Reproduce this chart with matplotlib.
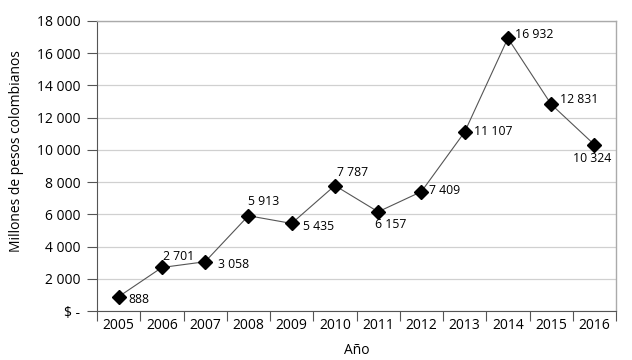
"""Millones de pesos colombianos por año"""

import matplotlib
matplotlib.use('agg')
import matplotlib.pyplot as plt
import numpy as np

years = ["2005", "2006", "2007", "2008", "2009", "2010",
         "2011", "2012", "2013", "2014", "2015", "2016"]
values = [888, 2701, 3058, 5913, 5435, 7787, 6157, 7409, 11107, 16932, 12831, 10324]
y_ticks = [0, 2000, 4000, 6000, 8000, 10000, 12000, 14000, 16000, 18000]


def fmt(v):
    """thousands with a space, zero as '$ -'"""
    if v == 0:
        return "$ -"
    return "{:,}".format(v).replace(",", " ")


# label placement (offset in pixels, ha, va)
LABEL_POS = [
    ((10, -3), "left", "center"),
    ((1, 11), "left", "center"),
    ((13, -3), "left", "center"),
    ((0, 14), "left", "center"),
    ((11, -3), "left", "center"),
    ((2, 13), "left", "center"),
    ((13, -13), "center", "center"),
    ((8, 1), "left", "center"),
    ((9, 1), "left", "center"),
    ((7, 4), "left", "center"),
    ((9, 5), "left", "center"),
    ((-2, -14), "center", "center"),
]


def main():
    plt.rcParams['font.family'] = ['Open Sans', 'DejaVu Sans']
    fig = plt.figure(figsize=(6.32, 3.6), dpi=100)
    ax = fig.add_axes([0.1535, 0.1361, 0.9747 - 0.1535, 0.9417 - 0.1361])

    x = np.arange(len(years))
    ax.plot(x, values, color="#555555", lw=0.8, marker="D", ms=7,
            mfc="black", mec="black", zorder=3)

    for i, v in enumerate(values):
        off, ha, va = LABEL_POS[i]
        ax.annotate(fmt(v), (x[i], v), xytext=off, textcoords="offset pixels",
                    ha=ha, va=va, fontsize=8.8, color="black")

    ax.set_xlim(-0.5, len(years) - 0.5)
    ax.set_ylim(0, 18000)
    ax.set_xticks(np.arange(-0.5, len(years)), labels=[])
    ax.set_xticks(x, labels=years, minor=True)
    ax.tick_params(axis="x", which="major", length=7, color="#555555", width=0.8)
    ax.tick_params(axis="x", which="minor", length=0, pad=5, labelsize=10)
    ax.set_yticks(y_ticks, labels=[fmt(t) for t in y_ticks])
    ax.tick_params(axis="y", length=7, color="#555555", width=0.8, pad=5,
                   labelsize=10)

    ax.grid(axis="y", color="#d0d0d0", lw=0.9)
    ax.set_axisbelow(True)
    for side in ["left", "bottom"]:
        ax.spines[side].set_color("#555555")
        ax.spines[side].set_linewidth(0.8)
    for side in ["top", "right"]:
        ax.spines[side].set_color("#aaaaaa")
        ax.spines[side].set_linewidth(1.0)

    ax.set_xlabel("Año", fontsize=10, labelpad=7)
    ax.set_ylabel("Millones de pesos colombianos", fontsize=10)
    ax.yaxis.set_label_coords(-0.140, 0.55)

    fig.savefig("out.png", dpi=100)


if __name__ == "__main__":
    main()
